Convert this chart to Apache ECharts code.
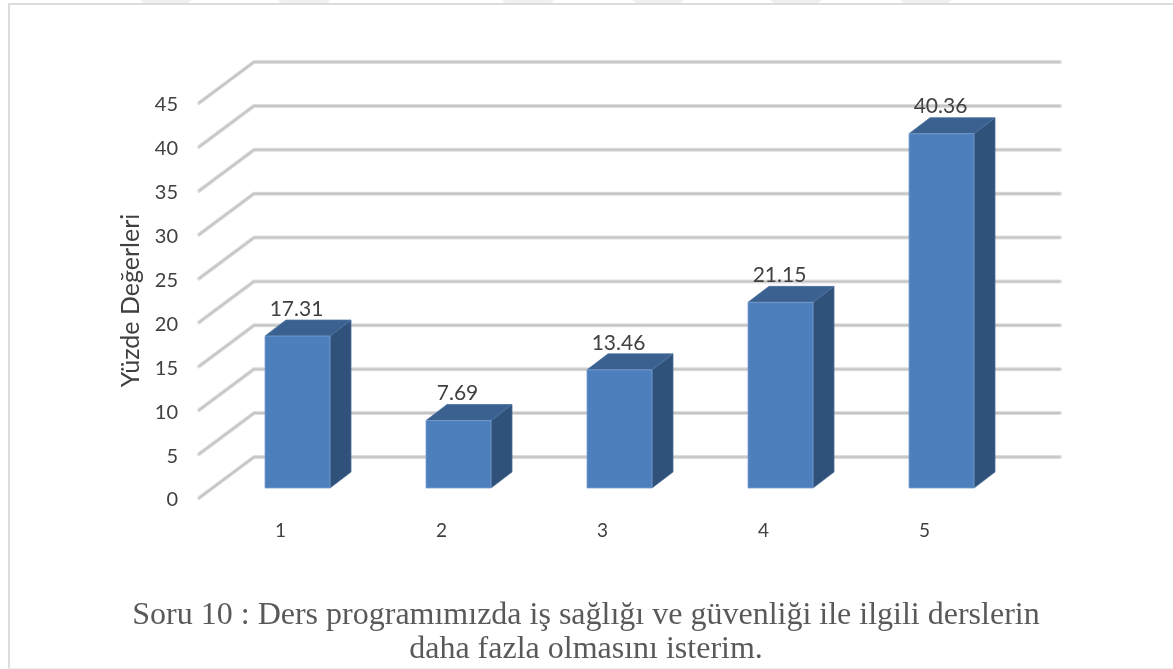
<!DOCTYPE html>
<html><head><meta charset="utf-8">
<style>html,body{margin:0;padding:0;background:#fff}#c{width:1173px;height:669px}</style>
<script src="https://cdn.jsdelivr.net/npm/echarts@6/dist/echarts.min.js"></script>
</head><body><div id="c"></div>
<script>
const categories = ['1','2','3','4','5'];
const percentages = [17.31, 7.69, 13.46, 21.15, 40.36];
const yTicks = [0,5,10,15,20,25,30,35,40,45];
const yAxisName = 'Yüzde Değerleri';
const titleText = 'Soru 10 : Ders programımızda iş sağlığı ve güvenliği ile ilgili derslerin\ndaha fazla olmasını isterim.';

const chart = echarts.init(document.getElementById('c'), null, {renderer:'canvas'});
const GL=200, GW=805, GT=103, GH=395;
const wallDx=55, wallDy=-41, barDx=21, barDy=-16, barShiftX=17, barShiftY=-10, barW=65;

function wall(params, api){
  const p = api.coord([0, api.value(0)]);
  const x0 = GL-1, y = p[1];
  const pts = [[x0,y],[x0+wallDx,y+wallDy],[GL+GW+55,y+wallDy]];
  return {type:'group',children:[
    {type:'polyline',shape:{points:pts},style:{fill:null,stroke:'#dddddd',lineWidth:4,lineCap:'round',lineJoin:'round'}},
    {type:'polyline',shape:{points:pts},style:{fill:null,stroke:'#c2c2c2',lineWidth:1.6,lineJoin:'round'}}
  ]};
}
function bar(params, api){
  const v = api.value(1);
  const top = api.coord([api.value(0), v]);
  const base = api.coord([api.value(0), 0]);
  const x = top[0]+barShiftX-barW/2, r = x+barW;
  const t = top[1]+barShiftY, b = base[1]+barShiftY;
  return {type:'group',children:[
    {type:'polygon',shape:{points:[[r,t],[r+barDx,t+barDy],[r+barDx,b+barDy],[r,b]]},style:{fill:'#30527a',stroke:'#4a6d97',lineWidth:0.8}},
    {type:'polygon',shape:{points:[[x,t],[x+barDx,t+barDy],[r+barDx,t+barDy],[r,t]]},style:{fill:'#3b6190',stroke:'#4a72a2',lineWidth:0.8}},
    {type:'rect',shape:{x:x,y:t,width:barW,height:b-t},style:{fill:'#4d7fbd',stroke:'#7a9fce',lineWidth:0.8}},
    {type:'text',x:x+barW/2-1,y:t-27,style:{text:v.toFixed(2),fill:'#404040',font:'21px Lato, sans-serif',align:'center',verticalAlign:'middle'}}
  ]};
}
const frame = {fill:'#dcdcdc'};
const marks = [140,278,502,632,770,900].map(x=>(
  {type:'polygon',z:-2,shape:{points:[[x,0],[x+52,0],[x+47,4],[x+5,4]]},style:{fill:'#efefef'}}));
chart.setOption({
  animation:false,
  backgroundColor:'#fff',
  title:{text:titleText,left:581,top:594,textAlign:'center',
    textStyle:{fontFamily:'"Liberation Serif"',fontSize:32,fontWeight:'normal',color:'#595959',lineHeight:34}},
  graphic:[
    ...marks,
    {type:'rect',z:-1,shape:{x:8,y:3,width:1165,height:2},style:frame},
    {type:'rect',z:-1,shape:{x:8,y:3,width:2,height:666},style:frame},
    {type:'rect',z:-1,shape:{x:8,y:668,width:1165,height:1},style:{fill:'#eeeeee'}}
  ],
  grid:{left:GL,width:GW,top:GT,height:GH},
  xAxis:{type:'category',data:categories,axisLine:{show:false},axisTick:{show:false},
    axisLabel:{margin:23,color:'#404040',fontSize:19,fontFamily:'Lato'}},
  yAxis:{type:'value',min:0,max:45,interval:5,name:yAxisName,nameLocation:'middle',nameGap:57,nameRotate:90,
    nameTextStyle:{color:'#404040',fontSize:25,fontFamily:'Lato'},
    axisLine:{show:false},axisTick:{show:false},splitLine:{show:false},
    axisLabel:{margin:22,formatter:'{a|{value}}',rich:{a:{color:'#404040',fontSize:20,fontFamily:'Lato',padding:[4,0,0,0]}}}},
  series:[
    {type:'custom',renderItem:wall,data:yTicks.map(t=>[t]),encode:{y:0},z:1,silent:true},
    {type:'custom',renderItem:bar,data:percentages.map((v,i)=>[i,v]),encode:{x:0,y:1},z:2}
  ]
});
</script></body></html>
